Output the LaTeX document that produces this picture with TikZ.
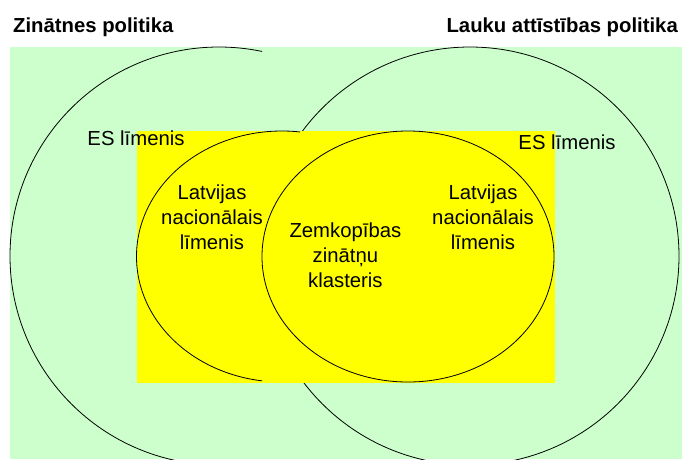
\documentclass[tikz,border=0pt]{standalone}
\usepackage{fontspec}
\setmainfont{Liberation Sans}
\definecolor{bggreen}{HTML}{CCFFCC}
\definecolor{yel}{HTML}{FFFF00}
\begin{document}
\begin{tikzpicture}[x=1pt,y=-1pt,
  lbl/.style={font=\fontsize{20.3}{24.7}\selectfont, inner sep=0pt, align=center},
  ttl/.style={font=\bfseries\fontsize{20.3}{24.7}\selectfont, inner sep=0pt},
  ring/.style={draw=black, line width=0.8pt}]
\useasboundingbox (0,0) rectangle (682,459);
% background
\fill[bggreen] (10,47) rectangle (682,459);
% left big circle (visible part only)
\begin{scope}
  \clip (0,0) rectangle (262,459);
  \draw[ring] (219,256) ellipse [x radius=209pt, y radius=209pt];
\end{scope}
% right big circle
\draw[ring] (470,256) ellipse [x radius=209pt, y radius=209pt];
% yellow field
\fill[yel] (137,131) rectangle (555,383);
% left inner ellipse (visible part only)
\begin{scope}
  \clip (0,0) rectangle (262,459) (262,0) rectangle (300,200);
  \draw[ring] (282,256.5) ellipse [x radius=145.5pt, y radius=125.5pt];
\end{scope}
% right inner ellipse
\draw[ring] (408,256.5) ellipse [x radius=146pt, y radius=125.5pt];
% titles
\node[ttl, anchor=base west] (t1) at (13,32) {Zinātnes politika};
\node[ttl, anchor=base east] (t2) at (678,32) {Lauku attīstības politika};
% labels
\node[lbl, anchor=base] (es1) at (136,145) {ES līmenis};
\node[lbl, anchor=base] (es2) at (567,149.5) {ES līmenis};
\node[lbl] (lv1) at (212,217.2) {Latvijas\\nacionālais\\līmenis};
\node[lbl] (lv2) at (483,217.2) {Latvijas\\nacionālais\\līmenis};
\node[lbl] (zk) at (345.4,255.1) {Zemkopības\\zinātņu\\klasteris};
\end{tikzpicture}
\end{document}
